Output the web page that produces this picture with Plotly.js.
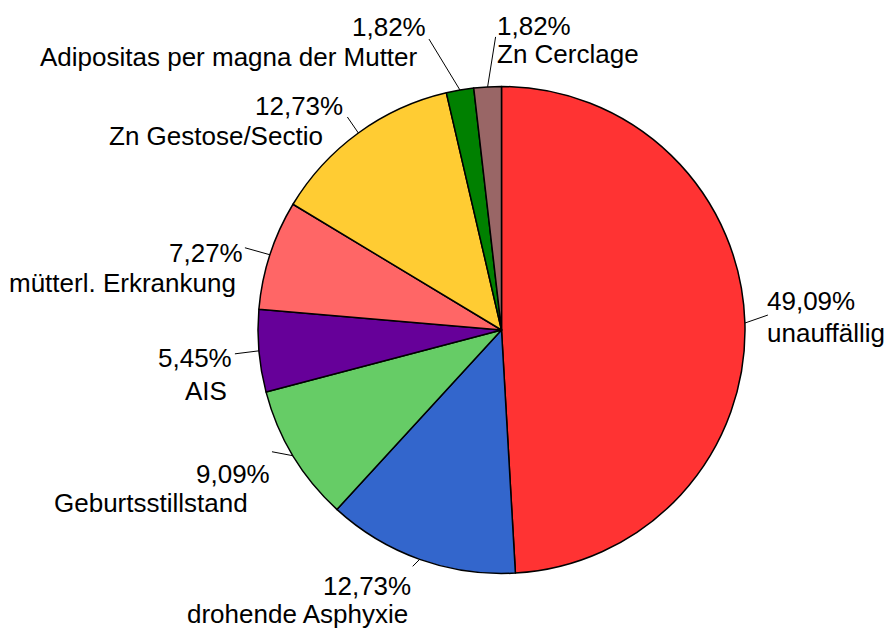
<!DOCTYPE html>
<html>
<head>
<meta charset="utf-8">
<script src="https://cdn.plot.ly/plotly-3.0.1.min.js"></script>
<style>html,body{margin:0;padding:0;background:#fff;}#chart{width:887px;height:629px;}</style>
</head>
<body>
<div id="chart"></div>
<script>
// ---- data ----
const categories = ["unauffällig", "drohende Asphyxie", "Geburtsstillstand", "AIS",
  "mütterl. Erkrankung", "Zn Gestose/Sectio", "Adipositas per magna der Mutter", "Zn Cerclage"];
const counts = [27, 7, 5, 3, 4, 7, 1, 1];
const colors = ["#FF3333", "#3366CC", "#66CC66", "#660099", "#FF6666", "#FFCC33", "#008000", "#996666"];

// ---- label layout (pixel offsets from slice edge midpoint) ----
const lineEndOff = [[23,-8],[-7,7],[-21,-4],[-24,3],[-25,-7],[-11,-16],[-31,-51],[8,-50]];
const pctOff     = [[23,-22],[-9,27],[-23,18],[-27,7],[-27,-2],[-15,-27],[-34,-63],[10,-61]];
const nameOff    = [[23,10],[-12,55],[-45,47],[-32,40],[-34,28],[-35,3],[-42,-33],[10,-33]];
const align      = ["left","right","right","right","right","right","right","left"];

const W = 887, H = 629;
const cx = 501.5, cy = 330, R = 243.5;
const total = counts.reduce((a,b)=>a+b,0);
const FONT = {size:26, color:'#000', family:'Liberation Sans, Arial, sans-serif'};

const annotations = [], shapes = [];
let cum = 0;
counts.forEach((v,i)=>{
  const th = 2*Math.PI*(cum + v/2)/total;
  cum += v;
  const ex = cx + R*Math.sin(th), ey = cy - R*Math.cos(th);
  const pct = (v/total*100).toFixed(2).replace('.', ',') + '%';
  const xs = align[i] === 'left' ? -3 : 2;
  shapes.push({type:'line', xref:'paper', yref:'paper',
    x0: ex/W, y0: 1-ey/H, x1: (ex+lineEndOff[i][0])/W, y1: 1-(ey+lineEndOff[i][1])/H,
    line:{color:'#000', width:1}});
  annotations.push({xref:'paper', yref:'paper', showarrow:false, xshift:xs,
    x:(ex+pctOff[i][0])/W, y:1-(ey+pctOff[i][1])/H, xanchor:align[i], yanchor:'middle',
    text:pct, font:FONT});
  annotations.push({xref:'paper', yref:'paper', showarrow:false, xshift:xs,
    x:(ex+nameOff[i][0])/W, y:1-(ey+nameOff[i][1])/H, xanchor:align[i], yanchor:'middle',
    text:categories[i], font:FONT});
});

const trace = {
  type:'pie', labels:categories, values:counts, sort:false, direction:'clockwise', rotation:0,
  marker:{colors:colors, line:{color:'#000', width:1.5}},
  textinfo:'none', hoverinfo:'none',
  domain:{x:[(cx-R)/W, (cx+R)/W], y:[1-(cy+R)/H, 1-(cy-R)/H]}
};

Plotly.newPlot('chart', [trace], {
  width:W, height:H, margin:{l:0,r:0,t:0,b:0}, showlegend:false,
  paper_bgcolor:'#fff', plot_bgcolor:'#fff',
  annotations:annotations, shapes:shapes,
  font:{family:'Liberation Sans, Arial, sans-serif'}
}, {displayModeBar:false, staticPlot:true});
</script>
</body>
</html>
